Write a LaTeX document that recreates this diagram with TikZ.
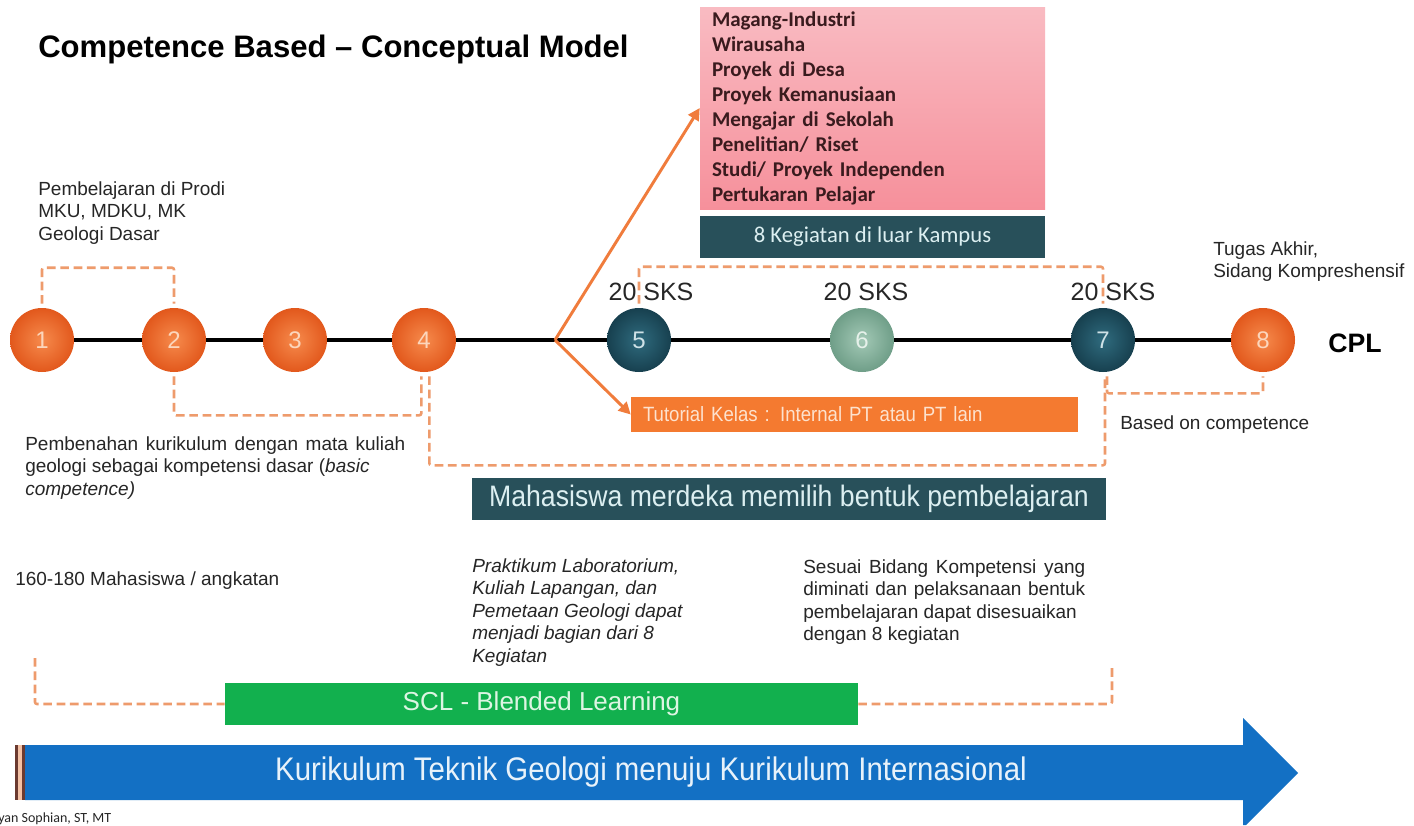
\documentclass[tikz,border=0pt]{standalone}
\usepackage{fontspec}
\setmainfont{Liberation Sans}
\newfontfamily\narrowsans[FakeStretch=0.9]{Liberation Sans}
\newfontfamily\calsans{Carlito}
\usetikzlibrary{arrows.meta}

\definecolor{txt}{HTML}{262626}
\definecolor{orIn}{HTML}{F68A4C}
\definecolor{orOut}{HTML}{E2581C}
\definecolor{orNum}{HTML}{FCD6BC}
\definecolor{tlIn}{HTML}{2F6B7E}
\definecolor{tlOut}{HTML}{17404F}
\definecolor{tlNum}{HTML}{CFE2E7}
\definecolor{sgIn}{HTML}{A3C9B6}
\definecolor{sgOut}{HTML}{6F9E88}
\definecolor{sgNum}{HTML}{E6F1EA}
\definecolor{arrC}{HTML}{F07C3C}
\definecolor{dashC}{HTML}{EE9B6C}
\definecolor{pinkTop}{HTML}{F9BBC2}
\definecolor{pinkBot}{HTML}{F6909B}
\definecolor{pinkTxt}{HTML}{3A1B1E}
\definecolor{tealBox}{HTML}{28505A}
\definecolor{tealTxt}{HTML}{DCEFF1}
\definecolor{tutC}{HTML}{F47A30}
\definecolor{tutTxt}{HTML}{FDE2CE}
\definecolor{greenC}{HTML}{12B04E}
\definecolor{greenTxt}{HTML}{DDF5E3}
\definecolor{blueC}{HTML}{1370C4}
\definecolor{blueTxt}{HTML}{E8F2FA}
\definecolor{stripeD}{HTML}{6B3A30}
\definecolor{stripeL}{HTML}{F3C1A5}

\newcommand\bodyfont{\fontsize{14.25pt}{16.875pt}\selectfont}

\begin{document}
\begin{tikzpicture}[x=0.75pt,y=-0.75pt,
  body/.style={font=\bodyfont, text=txt, inner sep=0pt, align=left, anchor=north west},
  stage/.style={circle, minimum size=48pt, inner sep=0pt, font=\fontsize{18pt}{18pt}\selectfont},
  orstage/.style={stage, inner color=orIn, outer color=orOut, text=orNum},
  tlstage/.style={stage, inner color=tlIn, outer color=tlOut, text=tlNum},
  sgstage/.style={stage, inner color=sgIn, outer color=sgOut, text=sgNum},
  tline/.style={line width=3pt, black},
  brk/.style={draw=dashC, line width=1.9pt, dash pattern=on 6.5pt off 3.5pt, rounded corners=1.5pt, shorten <=3pt, shorten >=3pt},
  orarrow/.style={draw=arrC, line width=2.2pt, -{Triangle[length=9pt,width=9pt]}},
  sks/.style={font=\fontsize{18.75pt}{18.75pt}\selectfont, text=txt, inner sep=0pt},
  tealbox/.style={fill=tealBox, text=tealTxt, inner sep=0pt}
]
\useasboundingbox (0,0) rectangle (1414,825);
\fill[white] (0,0) rectangle (1414,825);

% title
\node[anchor=base west, inner sep=0pt, text=black,
      font=\bfseries\fontsize{23.3pt}{23.3pt}\selectfont] (title) at (38,57)
  {Competence Based – Conceptual Model};

% activity list and its caption
\node[minimum width=258.75pt, minimum height=151.5pt, text width=240.75pt,
      inner xsep=9pt, inner ysep=0pt, align=left, top color=pinkTop, bottom color=pinkBot,
      text=pinkTxt, font=\calsans\bfseries\fontsize{15.75pt}{18.75pt}\selectfont]
  (pink) at (872.5,108)
  {Magang-Industri\\Wirausaha\\Proyek di Desa\\Proyek Kemanusiaan\\Mengajar di Sekolah\\Penelitian/ Riset\\Studi/ Proyek Independen\\Pertukaran Pelajar};
\node[tealbox, minimum width=258.75pt, minimum height=31.5pt,
      font=\calsans\fontsize{17pt}{17pt}\selectfont] (keg) at (872.5,237)
  {8 Kegiatan di luar Kampus};

% stages along the timeline
\node[orstage] (c1) at (42,340) {1};
\node[orstage] (c2) at (174,340) {2};
\node[orstage] (c3) at (295,340) {3};
\node[orstage] (c4) at (424,340) {4};
\node[tlstage] (c5) at (639,340) {5};
\node[sgstage] (c6) at (862,340) {6};
\node[tlstage] (c7) at (1103,340) {7};
\node[orstage] (c8) at (1263,340) {8};
\coordinate (br) at (555,340);

\draw[tline] (c1) -- (c2);
\draw[tline] (c2) -- (c3);
\draw[tline] (c3) -- (c4);
\draw[tline] (c4) -- (c5);
\draw[tline] (c5) -- (c6);
\draw[tline] (c6) -- (c7);
\draw[tline] (c7) -- (c8);

% credit labels
\node[sks] (s5) at (651,292) {20 SKS};
\node[sks] (s6) at (866,292) {20 SKS};
\node[sks] (s7) at (1113,292) {20 SKS};

% in-campus tutorial option
\node[fill=tutC, text=tutTxt, minimum width=335.25pt, minimum height=26.25pt,
      text width=317.25pt, inner xsep=9pt, inner ysep=0pt, align=left,
      font=\narrowsans\fontsize{15.5pt}{15.5pt}\selectfont] (tut) at (854.5,414.5)
  {Tutorial Kelas : Internal PT atau PT lain};

\draw[orarrow] (br) -- (pink.west);
\draw[orarrow] (br) -- (tut.west);

% dashed brackets
\draw[brk] (c1.north) -- ++(0,-40) -| (c2.north);
\draw[brk] (c2.south) -- ++(0,43) -| ([xshift=-2pt]c4.south);
\draw[brk] ([xshift=4pt]c4.south) -- ++(0,93) -| ([xshift=1.5pt]c7.south);
\draw[brk] (c5.north) -- ++(0,-41) -| (c7.north);
\draw[brk] ([xshift=3pt]c7.south) -- ++(0,21) -| (c8.south);

\node[tealbox, minimum width=475.5pt, minimum height=31.5pt,
      font=\narrowsans\fontsize{22.2pt}{22.2pt}\selectfont] (merdeka) at (789,499)
  {Mahasiswa merdeka memilih bentuk pembelajaran};

% side notes
\node[body] (prodi) at (38,181) {Pembelajaran di Prodi\\MKU, MDKU, MK\\Geologi Dasar};
\node[body] (benah) at (25,436)
  {\makebox[285pt][s]{Pembenahan kurikulum dengan mata kuliah}\\
   geologi sebagai kompetensi dasar (\textit{basic}\\
   \textit{competence)}};
\node[body] (angkatan) at (15,571) {160-180 Mahasiswa / angkatan};
\node[body, font=\bodyfont\itshape] (praktikum) at (472,558)
  {Praktikum Laboratorium,\\Kuliah Lapangan, dan\\Pemetaan Geologi dapat\\menjadi bagian dari 8\\Kegiatan};
\node[body] (sesuai) at (803,559)
  {\makebox[211.5pt][s]{Sesuai Bidang Kompetensi yang}\\
   \makebox[211.5pt][s]{diminati dan pelaksanaan bentuk}\\
   pembelajaran dapat disesuaikan\\
   dengan 8 kegiatan};
\node[body] (tugas) at (1213,241) {Tugas Akhir,\\Sidang Kompreshensif};
\node[body] (based) at (1120,415) {Based on competence};
\node[anchor=base west, inner sep=0pt, text=black,
      font=\bfseries\fontsize{20pt}{20pt}\selectfont] (cpl) at (1328,352) {CPL};

% learning mode band with its bracket
\node[fill=greenC, text=greenTxt, minimum width=474.75pt, minimum height=31.5pt,
      inner sep=0pt, font=\fontsize{19.5pt}{19.5pt}\selectfont] (scl) at (541.5,704)
  {SCL - Blended Learning};
\coordinate (g1) at (35,658);
\coordinate (g2) at (1112,664);
\draw[brk, shorten <=0pt, shorten >=0pt] (g1) |- (scl.west);
\draw[brk, shorten <=0pt, shorten >=0pt] (scl.east) -| (g2);

% curriculum arrow
\fill[stripeD] (15,745) rectangle (17.5,800);
\fill[stripeL] (17.5,745) rectangle (22,800);
\fill[stripeD] (22,745) rectangle (25,800);
\fill[blueC] (25,745) -- (1243,745) -- (1243,718) -- (1298,773) -- (1246,825)
  -- (1243,825) -- (1243,800) -- (25,800) -- cycle;
\node[text=blueTxt, inner sep=0pt, font=\narrowsans\fontsize{24.5pt}{24.5pt}\selectfont]
  (kur) at (651,772) {Kurikulum Teknik Geologi menuju Kurikulum Internasional};

% author line
\node[anchor=north west, inner sep=0pt, text=txt,
      font=\calsans\fontsize{10.5pt}{10.5pt}\selectfont] (author) at (-2,813)
  {yan Sophian, ST, MT};
\end{tikzpicture}
\end{document}
